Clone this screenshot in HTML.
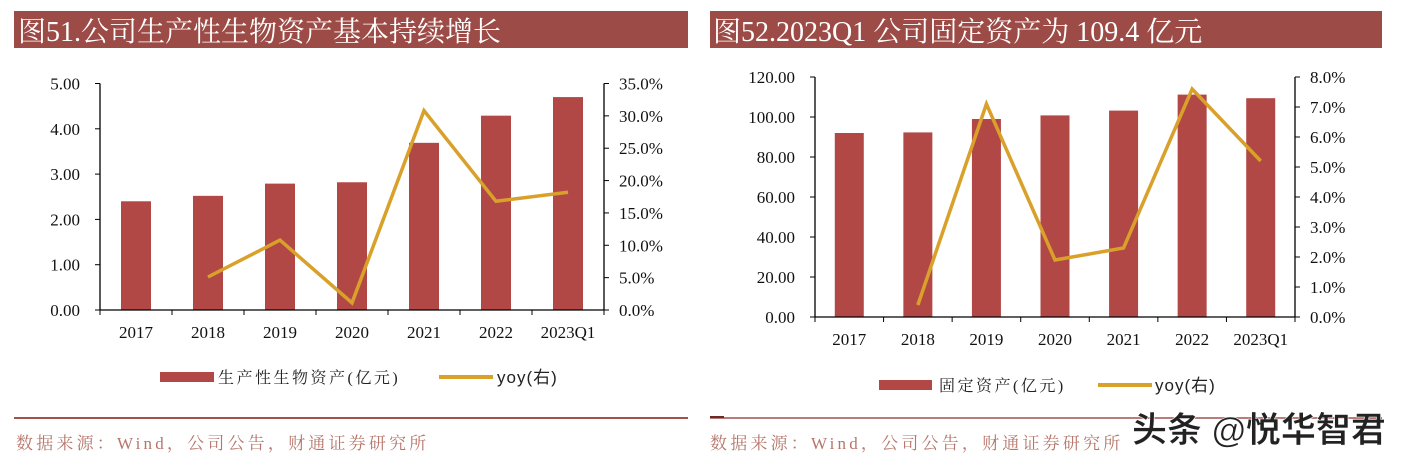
<!DOCTYPE html>
<html><head><meta charset="utf-8"><style>
body{margin:0;background:#fff;width:1406px;height:464px;overflow:hidden}
svg{display:block}
.serif{font-family:"Liberation Serif","Noto Serif CJK SC",serif}
.sans{font-family:"Liberation Sans","Noto Sans CJK SC",sans-serif}
</style></head><body>
<svg id="svg" width="1406" height="464" xmlns="http://www.w3.org/2000/svg">
<g>
<rect x="14" y="11" width="674" height="37" fill="#9c4b46"/>
<text x="18" y="41" class="serif" font-size="28" fill="#fff">图51.公司生产性生物资产基本持续增长</text>
<rect x="160" y="372" width="54" height="10" fill="#b24846"/>
<text x="218" y="383" class="serif" font-size="16" letter-spacing="2.5" fill="#222">生产性生物资产(亿元)</text>
<line x1="439" y1="377" x2="493" y2="377" stroke="#d9a02a" stroke-width="4"/>
<text x="497" y="383" class="sans" font-size="17" letter-spacing="1" fill="#222">yoy(右)</text>
<line x1="14" y1="418" x2="688" y2="418" stroke="#a2514b" stroke-width="2"/>
<text x="16" y="449" class="serif" font-size="17" letter-spacing="3.2" fill="#b6756a">数据来源：Wind，公司公告，财通证券研究所</text>
</g>
<g>
<rect x="710" y="11" width="672" height="37" fill="#9c4b46"/>
<text x="713" y="41" class="serif" font-size="28" fill="#fff">图52.2023Q1 公司固定资产为 109.4 亿元</text>
<rect x="879" y="380" width="53" height="10" fill="#b24846"/>
<text x="939" y="391" class="serif" font-size="16" letter-spacing="2.5" fill="#222">固定资产(亿元)</text>
<line x1="1098" y1="385" x2="1152" y2="385" stroke="#d9a02a" stroke-width="4"/>
<text x="1155" y="391" class="sans" font-size="17" letter-spacing="1" fill="#222">yoy(右)</text>
<line x1="710" y1="418" x2="1382" y2="418" stroke="#a2514b" stroke-width="1.5"/>
<line x1="710" y1="417" x2="724" y2="417" stroke="#6a2a26" stroke-width="2"/>
<text x="710" y="449" class="serif" font-size="17" letter-spacing="3.2" fill="#b6756a">数据来源：Wind，公司公告，财通证券研究所</text>
<text x="1132" y="442" class="sans" font-size="35" font-weight="bold" fill="#222" stroke="#fff" stroke-width="0.6">头条 @悦华智君</text>
</g>
</svg>
<script>
const categories=["2017","2018","2019","2020","2021","2022","2023Q1"];
const leftBars=[2.40,2.52,2.79,2.82,3.69,4.29,4.70];
const leftYoy=[null,5.1,10.8,1.1,30.8,16.8,18.2];
const leftTicks=["0.00","1.00","2.00","3.00","4.00","5.00"];
const leftRTicks=["0.0%","5.0%","10.0%","15.0%","20.0%","25.0%","30.0%","35.0%"];
const rightBars=[92.0,92.3,99.0,100.8,103.2,111.2,109.4];
const rightYoy=[null,0.4,7.1,1.9,2.3,7.6,5.2];
const rightTicks=["0.00","20.00","40.00","60.00","80.00","100.00","120.00"];
const rightRTicks=["0.0%","1.0%","2.0%","3.0%","4.0%","5.0%","6.0%","7.0%","8.0%"];
const NS="http://www.w3.org/2000/svg";
const svg=document.getElementById('svg');
function mk(tag,attrs,parent){const e=document.createElementNS(NS,tag);for(const k in attrs)e.setAttribute(k,attrs[k]);(parent||svg).appendChild(e);return e;}
function chart(cfg){
  const g=mk('g',{});
  
  
  const n=categories.length, step=(cfg.x1-cfg.x0)/n;
  const y=v=>cfg.yb-(v/cfg.lmax)*(cfg.yb-cfg.yt);
  const yr=v=>cfg.yb-(v/cfg.rmax)*(cfg.yb-cfg.yt);
  cfg.bars.forEach((v,i)=>{
    const r=mk('rect',{x:cfg.x0+step*(i+0.5)-cfg.bw/2,y:y(v),width:cfg.bw,height:cfg.yb-y(v),fill:'#b24846'},g);
    
    
  });
  let axes=mk('path',{d:`M${cfg.x0} ${cfg.yt}V${cfg.yb}H${cfg.x1}M${cfg.x1} ${cfg.yt}V${cfg.yb}`,stroke:'#000','stroke-width':1.3,fill:'none'},g);
  
  
  cfg.lt.forEach((t,i)=>{
    const v=i*cfg.lmax/(cfg.lt.length-1),yy=y(v);
    mk('line',{x1:cfg.x0-5,x2:cfg.x0,y1:yy,y2:yy,stroke:'#000'},g);
    const tx=mk('text',{x:cfg.x0-20,y:yy+6,'text-anchor':'end','font-size':17,class:'serif',fill:'#111'},g);
    tx.textContent=t;
    
    
  });
  cfg.rt.forEach((t,i)=>{
    const v=i*cfg.rmax/(cfg.rt.length-1),yy=yr(v);
    mk('line',{x1:cfg.x1,x2:cfg.x1+5,y1:yy,y2:yy,stroke:'#000'},g);
    const tx=mk('text',{x:cfg.x1+15,y:yy+6,'font-size':17,class:'serif',fill:'#111'},g);
    tx.textContent=t;
    
    
  });
  for(let i=0;i<=n;i++)mk('line',{x1:cfg.x0+step*i,x2:cfg.x0+step*i,y1:cfg.yb,y2:cfg.yb+5,stroke:'#000'},g);
  categories.forEach((c,i)=>{
    const tx=mk('text',{x:cfg.x0+step*(i+0.5),y:cfg.yb+28,'text-anchor':'middle','font-size':17,class:'serif',fill:'#111'},g);
    tx.textContent=c;
    
    
  });
  const pts=[];cfg.yoy.forEach((v,i)=>{if(v!==null)pts.push((cfg.x0+step*(i+0.5))+','+yr(v));});
  const pl=mk('polyline',{points:pts.join(' '),fill:'none',stroke:'#d9a02a','stroke-width':3.5,'stroke-linejoin':'miter'},g);
  
  
}
chart({name:'left-chart',x0:100,x1:604,yt:83.5,yb:310,lmax:5,rmax:35,bw:30,bars:leftBars,yoy:leftYoy,lt:leftTicks,rt:leftRTicks});
chart({name:'right-chart',x0:815,x1:1295,yt:77,yb:317,lmax:120,rmax:8,bw:29,bars:rightBars,yoy:rightYoy,lt:rightTicks,rt:rightRTicks});
</script>
</body></html>
